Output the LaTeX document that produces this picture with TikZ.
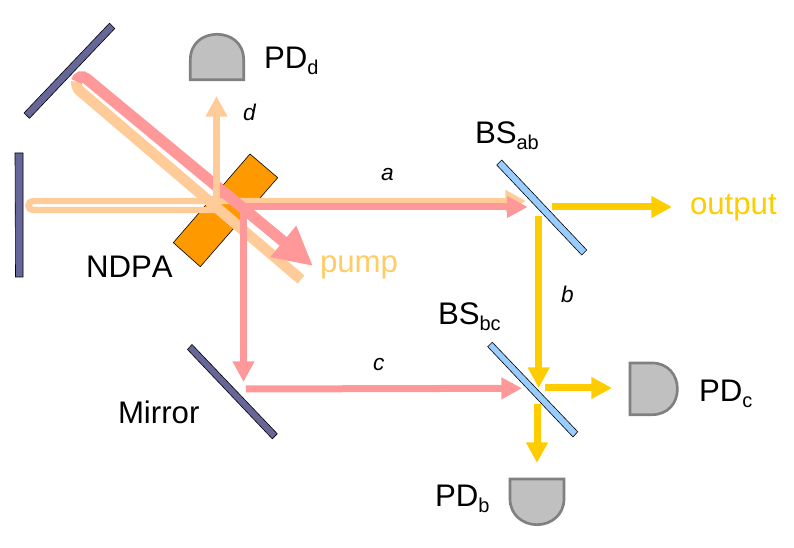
\documentclass[tikz,border=0pt]{standalone}
\usepackage{fontspec}
\setmainfont[Kerning=Off]{Liberation Sans}
\usetikzlibrary{arrows.meta}
\definecolor{peach}{HTML}{FFCC99}
\definecolor{pinkb}{HTML}{FF9999}
\definecolor{gold}{HTML}{FFCC00}
\definecolor{pumpc}{HTML}{FFCC66}
\definecolor{mirrorc}{HTML}{666699}
\definecolor{crystal}{HTML}{FF9900}
\definecolor{bsc}{HTML}{99CCFF}
\definecolor{pdc}{HTML}{C0C0C0}
\definecolor{pde}{HTML}{808080}
\newcommand{\subt}[1]{\raisebox{-4.5pt}{\fontsize{15}{15}\selectfont #1}}
\tikzset{
  optic/.style={draw=black,line width=0.45pt,line join=miter},
  mirrorbar/.style={optic,fill=mirrorc},
  splitter/.style={optic,fill=bsc},
  detector/.style={draw=pde,fill=pdc,line width=2pt},
  beam/.style={line width=5.25pt},
  head/.style={-{Triangle[length=15.5pt,width=15.5pt]}},
  lbl/.style={anchor=base west,inner sep=0pt,outer sep=0pt,font=\fontsize{23.4}{25}\selectfont},
  ital/.style={anchor=base west,inner sep=0pt,outer sep=0pt,font=\fontsize{17}{20}\selectfont\itshape},
}
\begin{document}
\begin{tikzpicture}[x=0.75pt,y=-0.75pt]
\useasboundingbox (0,0) rectangle (794,548);
% mirrors
\path[mirrorbar] (109.5,23.2) -- (114.8,28.5) -- (29.5,118.3) -- (24,113) -- cycle;
\path[mirrorbar] (15,153) -- (23,153) -- (23,277) -- (15.5,277) -- cycle;
\path[mirrorbar] (192,344.5) -- (277.3,433.8) -- (272.3,438.8) -- (187.5,349.5) -- cycle;
% crystal
\path[optic,fill=crystal] (250,154) -- (277.7,177.7) -- (200.3,266.7) -- (173.3,242.7) -- cycle;
% splitters
\path[splitter] (501.7,160) -- (586.7,250) -- (581.7,255) -- (496.7,165) -- cycle;
\path[splitter] (492.3,342.3) -- (577.7,431.7) -- (573,437) -- (487.7,346.7) -- cycle;
% detectors
\path[detector] (190.3,79.8) -- (190.3,60) .. controls (190.3,43) and (203,34.3) .. (217,34.3)
  .. controls (231,34.3) and (243.7,43) .. (243.7,60) -- (243.7,79.8) -- cycle;
\path[detector] (630,363) -- (652,363) .. controls (668,363) and (677.4,375) .. (677.4,389)
  .. controls (677.4,403) and (668,414.7) .. (652,414.7) -- (630,414.7) -- cycle;
\path[detector] (510,479) -- (564,479) -- (564,499) .. controls (564,515) and (551,524.7) .. (537,524.7)
  .. controls (523,524.7) and (510,515) .. (510,499) -- cycle;
% named beam points
\coordinate (peachEnd) at (301,279.5);
\coordinate (peachTurn) at (80,91);
\coordinate (loopMid) at (76.6,81.5);
\coordinate (pinkTurn) at (87,79);
\coordinate (pumpTip) at (313,266);
\coordinate (aIn) at (215,210);
\coordinate (aLoopLow) at (33,210);
\coordinate (aLoopUp) at (33,201);
\coordinate (aTip) at (526,201);
\coordinate (pinkAStart) at (236,207);
\coordinate (pinkATip) at (527.7,207);
\coordinate (pinkVStart) at (243.5,207);
\coordinate (pinkVTip) at (243.5,382);
\coordinate (cStart) at (246,389);
\coordinate (cTip) at (522,388.3);
\coordinate (dStart) at (216.5,200);
\coordinate (dTip) at (216.5,96);
% beams
\draw[peach,line width=8pt] (peachEnd) -- (peachTurn) .. controls (77,88.5) and (76,84.5) .. (loopMid);
\draw[peach,line width=4.8pt,head] (aIn) -- (aLoopLow) .. controls (27,210) and (27,201) .. (aLoopUp) -- (aTip);
\draw[pinkb,beam,head] (pinkAStart) -- (pinkATip);
\draw[pinkb,beam,head] (pinkVStart) -- (pinkVTip);
\draw[pinkb,beam,head] (cStart) -- (cTip);
\draw[pinkb,line width=8.4pt,-{Triangle[length=29pt,width=28.5pt]}] (loopMid) .. controls (77.5,77) and (82,75) .. (pinkTurn) -- (pumpTip);
\draw[peach,beam,head] (dStart) -- (dTip);
\coordinate (outStart) at (552,207);
\coordinate (outTip) at (672,207);
\coordinate (bStart) at (538.7,216);
\coordinate (bTip) at (538.7,388);
\coordinate (pcStart) at (545,388);
\coordinate (pcTip) at (612,388);
\coordinate (pbStart) at (537,404);
\coordinate (pbTip) at (537,463);
\draw[gold,beam,head] (outStart) -- (outTip);
\draw[gold,beam,head] (bStart) -- (bTip);
\draw[gold,beam,head] (pcStart) -- (pcTip);
\draw[gold,beam,head] (pbStart) -- (pbTip);
% labels
\node[lbl] (pdd) at (264,69) {PD\subt{d}};
\node[lbl] (bsab) at (475,144) {BS\subt{ab}};
\node[lbl,text=gold] (output) at (690,215) {output};
\node[lbl,text=pumpc] (pump) at (320,273) {pump};
\node[lbl] (ndpa) at (86,278) {NDPA};
\node[lbl] (mirror) at (118,424) {Mirror};
\node[lbl] (bsbc) at (438,325) {BS\subt{bc}};
\node[lbl] (pdc) at (699,402) {PD\subt{c}};
\node[lbl] (pdb) at (435,507) {PD\subt{b}};
\node[ital] (la) at (381,181) {a};
\node[ital] (ld) at (243,121) {d};
\node[ital] (lb) at (561,303) {b};
\node[ital] (lc) at (373,371) {c};
\end{tikzpicture}
\end{document}
